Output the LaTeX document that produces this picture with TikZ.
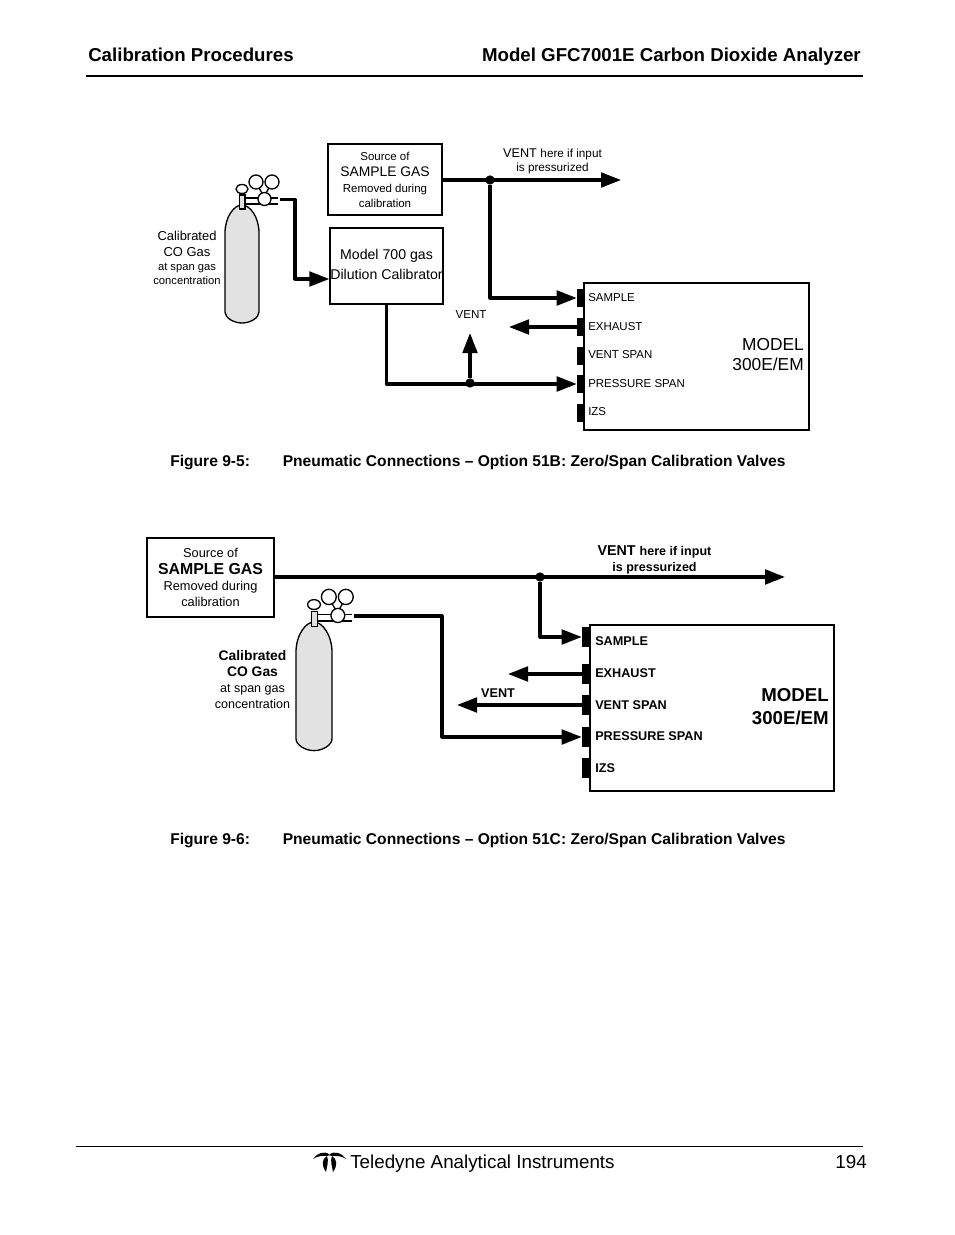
\documentclass[tikz,border=0pt]{standalone}
\usepackage{fontspec}
\setmainfont{Liberation Sans}
\usetikzlibrary{arrows.meta, positioning, calc}
\definecolor{cylgray}{RGB}{226, 226, 226}
\newcommand{\fsz}[2]{\fontsize{#1pt}{#2pt}\selectfont}

\begin{document}
\begin{tikzpicture}[
    x=0.75pt, y=-0.75pt,
    box/.style={draw, line width=1pt, inner sep=0pt, align=center},
    txt/.style={inner sep=0pt, align=center},
    portlbl/.style={inner sep=0pt, anchor=west},
    heading/.style={inner sep=0pt, font=\fsz{14}{16}\bfseries},
    caption/.style={inner sep=0pt, anchor=base west, font=\fsz{11.7}{14}\bfseries},
    pipe/.style={line width=2.3pt, line join=round},
    flow/.style={pipe, -{Triangle[length=15pt, width=11pt]}},
    port/.style={fill=black, inner sep=0pt, minimum width=#1*0.75pt, minimum height=#1*1.95pt},
    junc/.style={circle, fill=black, inner sep=0pt, minimum size=7pt},
    bottle/.pic={
        \draw[line width=1pt, fill=cylgray] (-17,107) -- (-17,28) .. controls (-17,12) and (-8,0) .. (0,0) .. controls (8,0) and (17,12) .. (17,28) -- (17,107) .. controls (17,113) and (8,118) .. (0,118) .. controls (-8,118) and (-17,113) .. (-17,107) -- cycle;
        \draw[line width=0.8pt, fill=cylgray] (-2.5,-10) rectangle (3,4);
        \draw[line width=1pt] (3,-7) -- (36,-7) (3,-1) -- (36,-1);
        \draw[line width=1pt, fill=white] (14,-23) circle (7);
        \draw[line width=1pt, fill=white] (30,-23) circle (7);
        \draw[line width=1pt] (17,-17) -- (20,-12) (27,-17) -- (24,-12);
        \draw[line width=1pt, fill=white] (22.5,-6) circle (6.5);
        \draw[line width=1pt, fill=white] (0,-16) ellipse (6 and 4.5);
        \coordinate (-outlet) at (38,-5.5);
    }
]
    \useasboundingbox (0,0) rectangle (954,1235);

    % page header
    \node[heading, anchor=base west] (headl) at (88,61) {Calibration Procedures};
    \node[heading, anchor=base east] (headr) at (861,61) {Model GFC7001E Carbon Dioxide Analyzer};
    \draw[line width=1.4pt] (86,76) -- (863,76);

    % figure 9-5
    \node[box, minimum width=114*0.75pt, minimum height=71*0.75pt] (srca) at (385,179.5) {};
    \node[txt] (srcatxt) at (385,179.5) {\fsz{8.6}{11}Source of\\\fsz{10.4}{12}SAMPLE GAS\\\fsz{8.6}{11}Removed during\\[-0.8pt]\fsz{8.6}{11}calibration};
    \node[box, minimum width=113*0.75pt, minimum height=76*0.75pt] (cala) at (386.5,266) {};
    \node[txt] (calatxt) at (386.5,264) {\fsz{10.6}{15}Model 700 gas\\[3pt]\fsz{10.6}{15}Dilution Calibrator};
    \node[box, minimum width=225*0.75pt, minimum height=147*0.75pt] (anaa) at (696.5,356.5) {};
    \foreach \name/\ypos/\lbly/\lbl in {a1/298/298/SAMPLE, a2/327/327/EXHAUST, a3/356/355/VENT SPAN, a4/384/384/PRESSURE SPAN, a5/413/412/IZS} {
        \node[port=7] (\name) at (580.5,\ypos) {};
        \node[portlbl, font=\fsz{8.6}{10}] (\name l) at (588,\lbly) {\lbl};
    }
    \node[txt, anchor=east, align=right] (moda) at (804,355) {\fsz{13}{15}MODEL\\[3pt]\fsz{13}{15}300E/EM};
    \pic (cyla) at (242,205) {bottle};
    \node[txt] (gasa) at (187,258) {\fsz{9.7}{11.7}Calibrated\\\fsz{9.7}{11.7}CO Gas\\[-1.5pt]\fsz{8.4}{10.3}at span gas\\[-1.5pt]\fsz{8.4}{10.3}concentration};
    \node[txt] (venta) at (552.5,161.5) {\fsz{9.5}{11}VENT \fsz{8.8}{11}here if input\\[-1.5pt]\fsz{8.8}{11}is pressurized};
    \node[txt, font=\fsz{8.7}{10}] (ventb) at (471,315) {VENT};

    \node[junc] (ja) at (490,180) {};
    \node[junc] (jb) at (470,383) {};
    \coordinate (ventendb) at (470,333);
    \coordinate (ventenda) at (621,180);
    \coordinate (exha) at (509,327);

    \draw[flow] (srca.east |- ja) -- (ventenda);
    \draw[flow] (ja) |- (a1.west);
    \draw[flow] (a2.west) -- (exha);
    \draw[flow] (cala.south) |- (a4.west);
    \draw[flow] (jb) -- (ventendb);
    \draw[flow] (cyla-outlet) -- ++(15,0) |- (cala.west |- 0,279);

    \node[caption] (capa) at (170,466) {Figure 9-5:};
    \node[caption] (capb) at (282.5,466) {Pneumatic Connections -- Option 51B: Zero/Span Calibration Valves};

    % figure 9-6
    \node[box, minimum width=127*0.75pt, minimum height=79*0.75pt] (srcb) at (210.5,577.5) {};
    \node[txt] (srcbtxt) at (210.5,577.5) {\fsz{9.6}{11.5}Source of\\[1pt]\fsz{11.9}{14}\bfseries SAMPLE GAS\\\fsz{9.6}{11.5}Removed during\\\fsz{9.6}{11.5}calibration};
    \node[box, minimum width=244*0.75pt, minimum height=166*0.75pt] (anab) at (712,708) {};
    \foreach \name/\ypos/\lbly/\lbl in {b1/637/641/SAMPLE, b2/674/673/EXHAUST, b3/705/705/VENT SPAN, b4/737/736/PRESSURE SPAN, b5/768/768/IZS} {
        \node[port=8] (\name) at (586,\ypos) {};
        \node[portlbl, font=\fsz{9.5}{11}\bfseries] (\name l) at (595,\lbly) {\lbl};
    }
    \node[txt, anchor=east, align=right] (modb) at (829,706.5) {\fsz{14}{18}\bfseries MODEL\\[5pt]\fsz{14}{18}\bfseries 300E/EM};
    \pic[xscale=1.06, yscale=1.09] (cylb) at (314,622) {bottle};
    \node[txt] (gasb) at (252.5,680) {\fsz{10.4}{12}\bfseries Calibrated\\\fsz{10.4}{12}\bfseries CO Gas\\\fsz{9.4}{11.5}at span gas\\\fsz{9.4}{11.5}concentration};
    \node[txt] (ventc) at (654.5,560) {\fsz{10.7}{12}\bfseries VENT \fsz{9.4}{12}here if input\\\fsz{9.4}{12}\bfseries is pressurized};
    \node[txt, font=\fsz{9.5}{11}\bfseries] (ventd) at (498,693) {VENT};

    \node[junc] (jc) at (540,577) {};
    \coordinate (ventendc) at (785,577);
    \coordinate (exhb) at (508,674);
    \coordinate (ventendd) at (457,705);

    \draw[flow] (srcb.east |- jc) -- (ventendc);
    \draw[flow] (jc) |- (b1.west);
    \draw[flow] (b2.west) -- (exhb);
    \draw[flow] (b3.west) -- (ventendd);
    \draw[flow] (cylb-outlet) -| (442,737) -- (b4.west);

    \node[caption] (capc) at (170,844) {Figure 9-6:};
    \node[caption] (capd) at (282.5,844) {Pneumatic Connections -- Option 51C: Zero/Span Calibration Valves};

    % page footer
    \draw[line width=0.7pt] (76,1146) -- (863,1146);
    \fill (313,1159) .. controls (317,1153) and (325,1150) .. (330,1155) .. controls (329,1157) and (320,1154) .. cycle;
    \fill (346,1159) .. controls (342,1153) and (334,1150) .. (329,1155) .. controls (330,1157) and (339,1154) .. cycle;
    \fill (327,1156) .. controls (322,1159) and (321,1165) .. (326,1172) .. controls (327,1166) and (329,1161) .. cycle;
    \fill (332,1156) .. controls (337,1159) and (338,1165) .. (333,1172) .. controls (332,1166) and (330,1161) .. cycle;
    \node[inner sep=0pt, anchor=base west, font=\fsz{14.1}{16}] (foot) at (350,1168) {Teledyne Analytical Instruments};
    \node[inner sep=0pt, anchor=base east, font=\fsz{14.1}{16}] (pageno) at (867,1168) {194};
\end{tikzpicture}
\end{document}
